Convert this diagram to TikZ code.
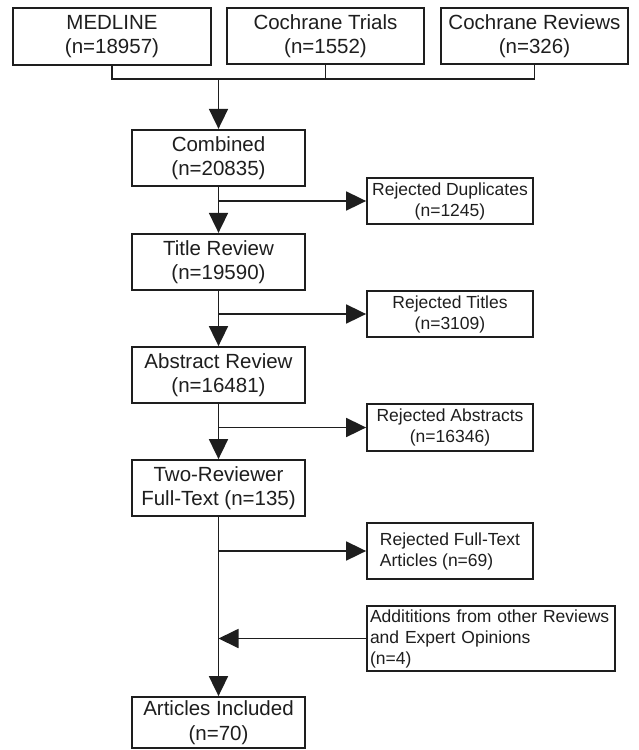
\documentclass[tikz,border=0pt]{standalone}
\usepackage{fontspec}
\setmainfont{Liberation Sans}
\usetikzlibrary{arrows.meta}
\definecolor{ink}{HTML}{1E1E1E}
\begin{document}
\begin{tikzpicture}[x=1pt,y=-1pt,
 box/.style={draw=ink,line width=1.8pt,align=center,inner sep=0pt,text=ink,font=\fontsize{20.5}{24.5}\selectfont},
 sbox/.style={box,font=\fontsize{17.5}{21}\selectfont},
 conn/.style={draw=ink,line width=1.8pt},
 arr/.style={conn,-{Triangle[length=20pt,width=19pt]}}]
\useasboundingbox (0,0) rectangle (638,750);
\fill[white] (0,0) rectangle (638,750);
% sources
\node[box,minimum width=198pt,minimum height=57pt] (med) at (112,36.5) {MEDLINE\\(n=18957)};
\node[box,minimum width=197pt,minimum height=56pt] (tri) at (325.5,36) {Cochrane Trials\\(n=1552)};
\node[box,minimum width=187pt,minimum height=56pt] (rev) at (534.5,36) {Cochrane Reviews\\(n=326)};
% main column
\node[box,minimum width=173pt,minimum height=56.5pt] (comb) at (218.5,158) {Combined\\(n=20835)};
\node[box,minimum width=173pt,minimum height=56.5pt] (title) at (218.5,262) {Title Review\\(n=19590)};
\node[box,minimum width=173pt,minimum height=56pt] (abs) at (218.5,375) {Abstract Review\\(n=16481)};
\node[box,minimum width=173pt,minimum height=56pt] (two) at (218.5,488) {Two-Reviewer\\Full-Text (n=135)};
\node[box,minimum width=173pt,minimum height=51pt] (art) at (218.5,722.5) {Articles Included\\(n=70)};
% side boxes
\node[sbox,minimum width=166pt,minimum height=46pt] (dup) at (450,201) {Rejected Duplicates\\(n=1245)};
\node[sbox,minimum width=166pt,minimum height=46pt] (rtit) at (450,314) {Rejected Titles\\(n=3109)};
\node[sbox,minimum width=166pt,minimum height=47pt] (rabs) at (450,427.5) {Rejected Abstracts\\(n=16346)};
\node[sbox,align=left,minimum width=166pt,minimum height=56pt] (rft) at (450,551) {Rejected Full-Text\\Articles (n=69)};
\node[sbox,align=left,text width=242pt,minimum width=248pt,minimum height=65pt] (add) at (491,638.5) {Addititions from other Reviews\\and Expert Opinions\\(n=4)};
% connectors
\coordinate (j) at (218.5,79);
\draw[conn] (med.south) -- (med.south |- j) -- (rev.south |- j) -- (rev.south);
\draw[conn] (tri.south) -- (tri.south |- j);
\draw[arr] (j) -- (comb.north);
\draw[arr] (comb) -- (title);
\draw[arr] (title) -- (abs);
\draw[arr] (abs) -- (two);
\draw[arr] (two) -- (art);
\draw[arr] (comb.south |- dup.west) -- (dup.west);
\draw[arr] (title.south |- rtit.west) -- (rtit.west);
\draw[arr] (abs.south |- rabs.west) -- (rabs.west);
\draw[arr] (two.south |- rft.west) -- (rft.west);
\draw[arr] (add.west) -- (add.west -| two.south);
\end{tikzpicture}
\end{document}
